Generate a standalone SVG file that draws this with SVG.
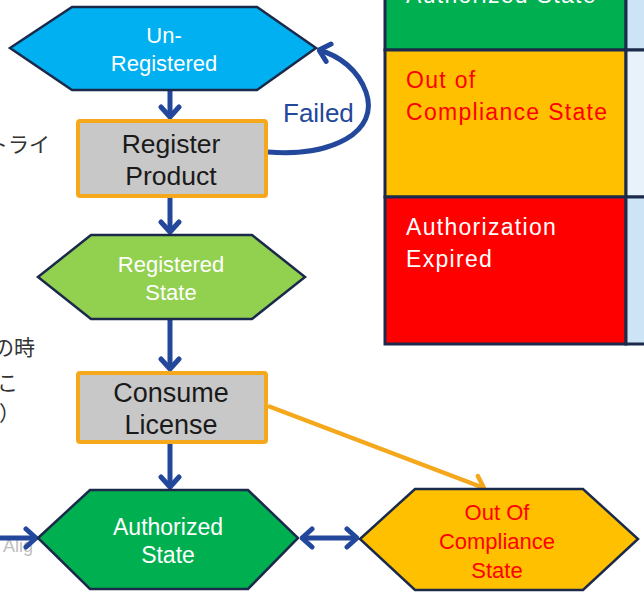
<svg xmlns="http://www.w3.org/2000/svg" width="644" height="596" viewBox="0 0 644 596">
<style>
.hex{stroke:#1b2a4a;stroke-width:2.5}
.box{fill:#c8c8c8;stroke:#f5a81c;stroke-width:4}
.t{font-family:"Liberation Sans",Arial,sans-serif;text-anchor:middle}
.w{fill:#ffffff}
.k{fill:#1a1a1a}
.r{fill:#ff0000}
.jp{font-family:"Noto Sans CJK JP","Liberation Sans",sans-serif;fill:#333;font-size:21px}
.tb{font-family:"Liberation Sans","Noto Sans CJK JP",sans-serif;font-size:23px;letter-spacing:1.3px}
.cell{stroke:#1b2a4a;stroke-width:3}
.bl{fill:none;stroke:#23479a;stroke-width:5}
.or{fill:none;stroke:#f5a81c;stroke-width:4.5}
</style>
<defs>
<marker id="ab" viewBox="-14 -12 16 24" markerWidth="16" markerHeight="24" markerUnits="userSpaceOnUse" orient="auto-start-reverse" refX="0" refY="0">
<path d="M-10,-9 L0,0 L-10,9" fill="none" stroke="#23479a" stroke-width="5" stroke-linecap="round" stroke-linejoin="round"/>
</marker>
<marker id="ao" viewBox="-14 -12 16 24" markerWidth="16" markerHeight="24" markerUnits="userSpaceOnUse" orient="auto" refX="0" refY="0">
<path d="M-10,-9 L0,0 L-10,9" fill="none" stroke="#f5a81c" stroke-width="4.5" stroke-linecap="round" stroke-linejoin="round"/>
</marker>
</defs>
<rect width="644" height="596" fill="#ffffff"/>

<g id="sidetext">
<text class="jp" x="50" y="152" text-anchor="end">トライ</text>
<text class="jp" x="35" y="355" text-anchor="end">の時</text>
<text class="jp" x="18" y="390" text-anchor="end">こ</text>
<text class="jp" x="-1" y="421">）</text>
<text x="3" y="552" font-family="Liberation Sans,Arial,sans-serif" font-size="18" fill="#c0c0c0">Alig</text>
</g>

<g id="table">
<rect class="cell" x="385" y="-5" width="241" height="55" fill="#00b050"/>
<rect class="cell" x="626" y="-5" width="30" height="55" fill="#cde4f6"/>
<rect class="cell" x="385" y="50" width="241" height="147" fill="#ffc000"/>
<rect class="cell" x="626" y="50" width="30" height="147" fill="#e8f2fb"/>
<rect class="cell" x="385" y="197" width="241" height="147" fill="#ff0000"/>
<rect class="cell" x="626" y="197" width="30" height="147" fill="#cde4f6"/>
<text class="tb" x="406" y="3" fill="#ffffff">Authorized State</text>
<text class="tb" x="406" y="88" fill="#ff0000">Out of</text>
<text class="tb" x="406" y="120" fill="#ff0000">Compliance State</text>
<text class="tb" x="406" y="235" fill="#ffffff">Authorization</text>
<text class="tb" x="406" y="267" fill="#ffffff">Expired</text>
</g>

<g id="connectors">
<line class="bl" x1="170" y1="91" x2="170" y2="117" marker-end="url(#ab)"/>
<line class="bl" x1="170" y1="198" x2="170" y2="232" marker-end="url(#ab)"/>
<line class="bl" x1="170" y1="320" x2="170" y2="369" marker-end="url(#ab)"/>
<line class="bl" x1="170" y1="444" x2="170" y2="487" marker-end="url(#ab)"/>
<line class="bl" x1="0" y1="538" x2="36" y2="538" marker-end="url(#ab)"/>
<line class="bl" x1="302" y1="538" x2="357" y2="538" marker-start="url(#ab)" marker-end="url(#ab)"/>
<line class="or" x1="268" y1="406" x2="484" y2="488" marker-end="url(#ao)"/>
<path class="bl" d="M268,152 C332,157 380,132 366,92 C358,70 340,56 319,50" stroke-width="5.5" marker-end="url(#ab)"/>
<text x="283" y="122" font-family="Liberation Sans,Arial,sans-serif" font-size="26" fill="#23479a">Failed</text>
</g>

<g id="unregistered">
<polygon class="hex" fill="#00b0f0" points="10,48 72,7 257,7 316,48 257,90 72,90"/>
<text class="t w" x="164" y="43" font-size="22">Un-</text>
<text class="t w" x="164" y="71" font-size="22">Registered</text>
</g>

<g id="register">
<rect class="box" x="78" y="121" width="188" height="75" rx="2"/>
<text class="t k" x="171" y="153" font-size="26.5">Register</text>
<text class="t k" x="171" y="185" font-size="26.5">Product</text>
</g>

<g id="registered">
<polygon class="hex" fill="#92d050" points="38,277 91,235 252,235 305,277 252,319 91,319"/>
<text class="t w" x="171" y="272" font-size="22">Registered</text>
<text class="t w" x="171" y="300" font-size="22">State</text>
</g>

<g id="consume">
<rect class="box" x="78" y="373" width="188" height="69" rx="2"/>
<text class="t k" x="171" y="402" font-size="27">Consume</text>
<text class="t k" x="171" y="434" font-size="27">License</text>
</g>

<g id="authorized">
<polygon class="hex" fill="#00b050" points="38,538 90,490 248,490 298,538 248,589 90,589"/>
<text class="t w" x="168" y="535" font-size="23">Authorized</text>
<text class="t w" x="168" y="563" font-size="23">State</text>
</g>

<g id="outofcompliance">
<polygon class="hex" fill="#ffc000" points="360,539 415,489 583,489 638,539 583,590 415,590"/>
<text class="t r" x="497" y="520" font-size="22">Out Of</text>
<text class="t r" x="497" y="549" font-size="22">Compliance</text>
<text class="t r" x="497" y="578" font-size="22">State</text>
</g>
</svg>
